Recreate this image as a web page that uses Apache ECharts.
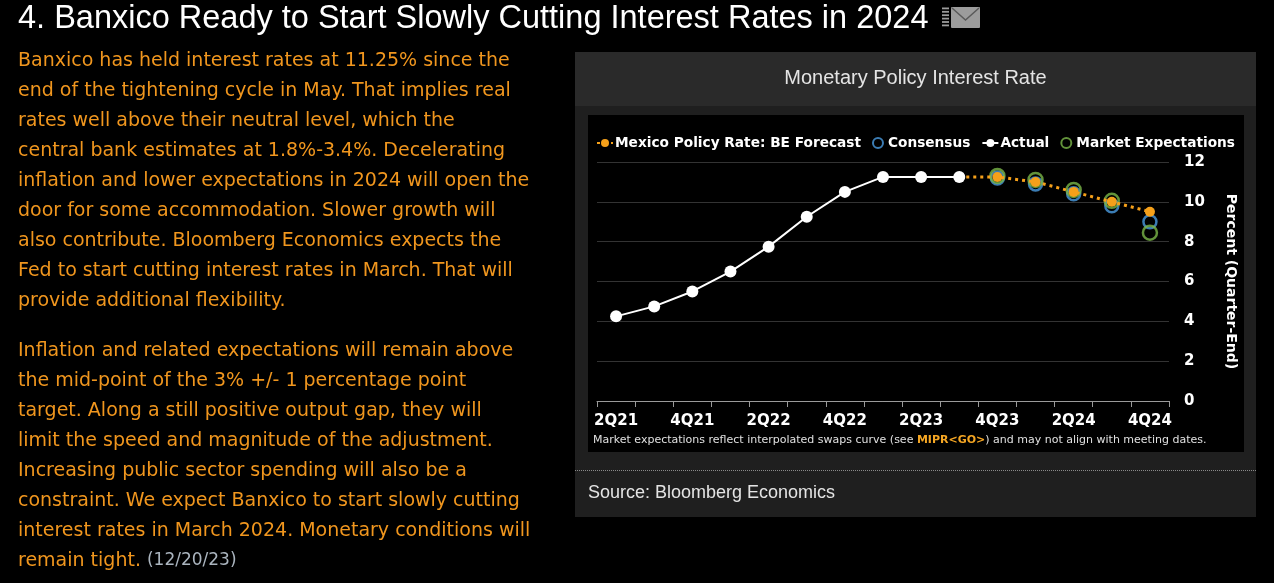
<!DOCTYPE html>
<html>
<head>
<meta charset="utf-8">
<script src="https://cdn.jsdelivr.net/npm/echarts@6/dist/echarts.min.js"></script>
<style>
    html, body { margin: 0; padding: 0; background: #000; }
    #main { width: 1274px; height: 583px; }
</style>
</head>
<body>
<div id="main"></div>
<script>
    // data
    var quarters = ['2Q21', '3Q21', '4Q21', '1Q22', '2Q22', '3Q22', '4Q22', '1Q23', '2Q23', '3Q23', '4Q23', '1Q24', '2Q24', '3Q24', '4Q24'];
    var actual = [4.25, 4.75, 5.5, 6.5, 7.75, 9.25, 10.5, 11.25, 11.25, 11.25, null, null, null, null, null];
    var forecast = [null, null, null, null, null, null, null, null, null, 11.25, 11.25, 11.0, 10.5, 10.0, 9.5];
    var consensus = [null, null, null, null, null, null, null, null, null, null, 11.2, 10.9, 10.4, 9.8, 9.0];
    var market = [null, null, null, null, null, null, null, null, null, null, 11.3, 11.1, 10.6, 10.05, 8.45];
    var yTicks = [0, 2, 4, 6, 8, 10, 12];

    var pageTitle = '4. Banxico Ready to Start Slowly Cutting Interest Rates in 2024';
    var chartTitle = 'Monetary Policy Interest Rate';
    var source = 'Source: Bloomberg Economics';
    var bodyLines = [
        'Banxico has held interest rates at 11.25% since the',
        'end of the tightening cycle in May. That implies real',
        'rates well above their neutral level, which the',
        'central bank estimates at 1.8%-3.4%. Decelerating',
        'inflation and lower expectations in 2024 will open the',
        'door for some accommodation. Slower growth will',
        'also contribute. Bloomberg Economics expects the',
        'Fed to start cutting interest rates in March. That will',
        'provide additional flexibility.',
        '',
        'Inflation and related expectations will remain above',
        'the mid-point of the 3% +/- 1 percentage point',
        'target. Along a still positive output gap, they will',
        'limit the speed and magnitude of the adjustment.',
        'Increasing public sector spending will also be a',
        'constraint. We expect Banxico to start slowly cutting',
        'interest rates in March 2024. Monetary conditions will',
        'remain tight. {d|(12/20/23)}'
    ];

    var orange = '#f0961e';
    var bodyFont = 'DejaVu Sans';

    var graphics = [
        { type: 'rect', z: -5, shape: { x: 575, y: 52, width: 681, height: 465 }, style: { fill: '#1f1f1f' } },
        { type: 'rect', z: -4, shape: { x: 575, y: 52, width: 681, height: 54 }, style: { fill: '#2a2a2a' } },
        { type: 'rect', z: -4, shape: { x: 588, y: 115, width: 656, height: 337 }, style: { fill: '#000' } },
        { type: 'line', z: -4, shape: { x1: 575, y1: 470.5, x2: 1256, y2: 470.5 }, style: { stroke: '#8a8a8a', lineWidth: 1, lineDash: [1, 1] } },
        {
            type: 'text', x: 18, y: 19,
            style: { text: pageTitle, fill: '#fff', font: '32.5px "Liberation Sans"', verticalAlign: 'middle' }
        },
        // envelope icon
        { type: 'rect', shape: { x: 951, y: 7, width: 29, height: 21, r: 1 }, style: { fill: '#9c9c9c' } },
        { type: 'polyline', shape: { points: [[952, 8], [965.5, 20], [979, 8]] }, style: { stroke: '#5a5a5a', lineWidth: 1.5, fill: null } },
        {
            type: 'text', x: 915.5, y: 78,
            style: { text: chartTitle, fill: '#e4e4e4', font: '20px "Liberation Sans"', align: 'center', verticalAlign: 'middle' }
        },
        {
            type: 'text', x: 588, y: 493,
            style: { text: source, fill: '#e4e4e4', font: '18px "Liberation Sans"', verticalAlign: 'middle' }
        },
        {
            type: 'text', x: 593, y: 440,
            style: {
                text: 'Market expectations reflect interpolated swaps curve (see {m|MIPR<GO>}) and may not align with meeting dates.',
                fill: '#e0e0e0', font: '11px "DejaVu Sans"', verticalAlign: 'middle',
                rich: { m: { fill: '#f5a623', fontWeight: 'bold', fontSize: 11, fontFamily: 'DejaVu Sans' } }
            }
        }
    ];
    for (var k = 0; k < 6; k++) {
        graphics.push({ type: 'rect', shape: { x: 942, y: 7.5 + k * 3.4, width: 7, height: 1.8 }, style: { fill: '#9c9c9c' } });
    }
    var lineY = 61;
    for (var i = 0; i < bodyLines.length; i++) {
        if (!bodyLines[i]) { lineY += 20; continue; }
        graphics.push({
            type: 'text', x: 18, y: lineY,
            style: {
                text: bodyLines[i], fill: orange, font: '19px "' + bodyFont + '"', verticalAlign: 'middle',
                rich: { d: { fill: '#aab4be', fontSize: 17, fontFamily: bodyFont } }
            }
        });
        lineY += 30;
    }

    var myChart = echarts.init(document.getElementById('main'));
    var option = {
        backgroundColor: '#000',
        animation: false,
        graphic: graphics,
        legend: {
            left: 591, top: 131,
            itemWidth: 16, itemHeight: 10, itemGap: 11,
            textStyle: { color: '#fff', fontWeight: 'bold', fontSize: 13.7, fontFamily: 'DejaVu Sans', padding: [0, 0, 0, -3] },
            data: ['Mexico Policy Rate: BE Forecast', 'Consensus', 'Actual', 'Market Expectations']
        },
        grid: { left: 597, right: 105, top: 162, bottom: 182 },
        xAxis: {
            type: 'category',
            data: quarters,
            boundaryGap: true,
            axisLine: { lineStyle: { color: '#9a9a9a', width: 1 } },
            axisTick: { show: true, interval: 0, length: 6, lineStyle: { color: '#9a9a9a' } },
            axisLabel: { interval: 1, color: '#fff', fontWeight: 'bold', fontSize: 15, fontFamily: 'DejaVu Sans', margin: 13 },
            splitLine: { show: false }
        },
        yAxis: {
            type: 'value',
            position: 'right',
            min: yTicks[0], max: yTicks[yTicks.length - 1], interval: 2,
            name: 'Percent (Quarter-End)',
            nameLocation: 'middle', nameRotate: -90, nameGap: 55,
            nameTextStyle: { color: '#fff', fontWeight: 'bold', fontSize: 14, fontFamily: 'DejaVu Sans' },
            axisLine: { show: false },
            axisTick: { show: false },
            axisLabel: { color: '#fff', fontWeight: 'bold', fontSize: 15, fontFamily: 'DejaVu Sans', margin: 15 },
            splitLine: { lineStyle: { color: '#333', width: 1 } }
        },
        series: [{
            name: 'Consensus', type: 'scatter', z: 3,
            data: consensus,
            symbol: 'circle', symbolSize: 13,
            itemStyle: { color: 'rgba(0,0,0,0)', borderColor: '#4a9be0', borderWidth: 2.5 }
        }, {
            name: 'Market Expectations', type: 'scatter', z: 4,
            data: market,
            symbol: 'circle', symbolSize: 14,
            itemStyle: { color: 'rgba(0,0,0,0)', borderColor: '#7ab648', borderWidth: 2.5 }
        }, {
            name: 'Mexico Policy Rate: BE Forecast', type: 'line', z: 5,
            data: forecast,
            symbol: 'circle', symbolSize: 10, showSymbol: true,
            itemStyle: { color: '#f5a01a' },
            lineStyle: { color: '#f5a01a', width: 3, type: [3, 4] }
        }, {
            name: 'Actual', type: 'line', z: 6,
            data: actual,
            symbol: 'circle', symbolSize: 12,
            itemStyle: { color: '#fff' },
            lineStyle: { color: '#fff', width: 2 }
        }]
    };
    myChart.setOption(option);
</script>
</body>
</html>
